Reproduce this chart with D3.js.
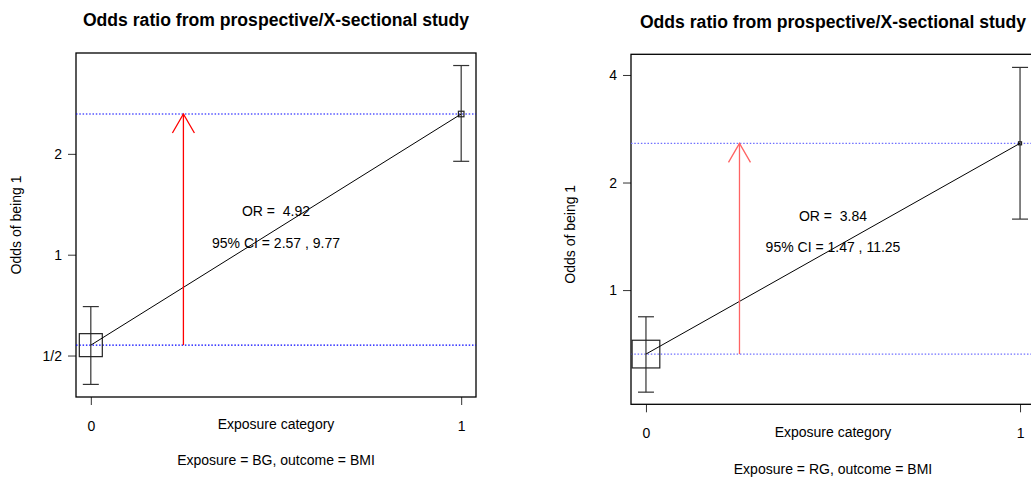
<!DOCTYPE html>
<html>
<head>
<meta charset="utf-8">
<script src="https://cdn.jsdelivr.net/npm/d3@7"></script>
<style>
  body { margin: 0; background: #fff; }
  text { font-family: "Liberation Sans", Arial, sans-serif; fill: #000; white-space: pre; }
</style>
</head>
<body>
<div id="root"></div>
<script>
// exposure categories (x axis)
const categories = [0, 1];

// panel 1: exposure = BG
const oddsBG = [0.537, 2.63];
const ciLowBG = [0.41, 1.90];
const ciHighBG = [0.70, 3.67];
const weightBG = [0.83, 0.2];
const yTicksBG = [0.5, 1, 2];
const yTickLabelsBG = ["1/2", "1", "2"];
const statsBG = ["OR =  4.92", "95% CI = 2.57 , 9.77"];

// panel 2: exposure = RG
const oddsRG = [0.662, 2.575];
const ciLowRG = [0.518, 1.58];
const ciHighRG = [0.842, 4.2];
const weightRG = [1, 0.11];
const yTicksRG = [1, 2, 4];
const yTickLabelsRG = ["1", "2", "4"];
const statsRG = ["OR =  3.84", "95% CI = 1.47 , 11.25"];

const W = 1031, H = 480;

const svg = d3.select("#root")
  .append("svg")
  .attr("width", W)
  .attr("height", H);

function drawPanel(p) {
  const x = d3.scaleLinear()
    .domain([-0.04, 1.04])
    .range([p.left, p.right]);
  const y = d3.scaleLog()
    .base(2)
    .domain(p.yDomain)
    .range([p.bottom, p.top]);
  const size = d3.scaleLinear().domain([0, 1]).range([0, 27.7]);
  const cx = (p.left + p.right) / 2;
  const g = svg.append("g");

  // title
  g.append("text")
    .attr("x", cx)
    .attr("y", p.titleY)
    .attr("text-anchor", "middle")
    .style("font-size", "17.6px")
    .style("font-weight", "bold")
    .text("Odds ratio from prospective/X-sectional study");

  // axes
  const yAxis = d3.axisLeft(y)
    .tickValues(p.yTicks)
    .tickFormat((d, i) => p.yTickLabels[i])
    .tickSize(8)
    .tickPadding(6);
  const ya = g.append("g")
    .attr("transform", `translate(${p.left},0)`)
    .call(yAxis);
  ya.select(".domain").remove();
  ya.selectAll("text").style("font-size", "14px").attr("font-family", null);
  ya.selectAll("line").attr("stroke", "#333");

  const xAxis = d3.axisBottom(x)
    .tickValues(categories)
    .tickFormat(d3.format("d"))
    .tickSize(8)
    .tickPadding(p.xTickPad);
  const xa = g.append("g")
    .attr("transform", `translate(0,${p.bottom})`)
    .call(xAxis);
  xa.select(".domain").remove();
  xa.selectAll("text").style("font-size", "14px").attr("font-family", null);
  xa.selectAll("line").attr("stroke", "#333");

  // plot box
  g.append("rect")
    .attr("x", p.left)
    .attr("y", p.top)
    .attr("width", p.right - p.left)
    .attr("height", p.bottom - p.top)
    .attr("fill", "none")
    .attr("stroke", "#000")
    .attr("stroke-width", 1.3);

  // axis titles
  g.append("text")
    .attr("x", cx)
    .attr("y", p.bottom + p.xLabelDy)
    .attr("text-anchor", "middle")
    .style("font-size", "14px")
    .text("Exposure category");
  g.append("text")
    .attr("x", cx)
    .attr("y", p.bottom + p.subDy)
    .attr("text-anchor", "middle")
    .style("font-size", "14px")
    .text(p.sub);
  g.append("text")
    .attr("transform", `translate(${p.yLabelX},${(p.top + p.bottom) / 2 + p.yLabelDy}) rotate(-90)`)
    .attr("text-anchor", "middle")
    .style("font-size", "14px")
    .text("Odds of being 1");

  // dotted reference lines at each group's odds
  g.selectAll(".ref")
    .data(p.odds)
    .enter()
    .append("line")
    .attr("class", "ref")
    .attr("x1", p.left)
    .attr("x2", p.right)
    .attr("y1", d => y(d))
    .attr("y2", d => y(d))
    .attr("stroke", p.refColor)
    .attr("stroke-width", 1.2)
    .attr("stroke-dasharray", "1.5,1.8");

  // error bars
  const bars = g.selectAll(".ci")
    .data(categories)
    .enter()
    .append("g")
    .attr("class", "ci")
    .attr("stroke", "#333")
    .attr("stroke-width", 1.2);
  bars.append("line")
    .attr("x1", d => x(d)).attr("x2", d => x(d))
    .attr("y1", (d, i) => y(p.ciLow[i]))
    .attr("y2", (d, i) => y(p.ciHigh[i]));
  bars.append("line")
    .attr("x1", d => x(d) - 8).attr("x2", d => x(d) + 8)
    .attr("y1", (d, i) => y(p.ciLow[i]))
    .attr("y2", (d, i) => y(p.ciLow[i]));
  bars.append("line")
    .attr("x1", d => x(d) - 8).attr("x2", d => x(d) + 8)
    .attr("y1", (d, i) => y(p.ciHigh[i]))
    .attr("y2", (d, i) => y(p.ciHigh[i]));

  // squares sized by group weight
  g.selectAll(".sq")
    .data(categories)
    .enter()
    .append("rect")
    .attr("class", "sq")
    .attr("x", (d, i) => x(d) - size(p.weight[i]) / 2)
    .attr("y", (d, i) => y(p.odds[i]) - size(p.weight[i]) / 2)
    .attr("width", (d, i) => size(p.weight[i]))
    .attr("height", (d, i) => size(p.weight[i]))
    .attr("fill", "none")
    .attr("stroke", "#222")
    .attr("stroke-width", 1.2);

  // line joining odds
  g.append("path")
    .datum(categories)
    .attr("d", d3.line().x(d => x(d)).y((d, i) => y(p.odds[i])))
    .attr("fill", "none")
    .attr("stroke", "#000")
    .attr("stroke-width", 1);

  // red arrow showing the odds ratio
  const ax = x(0.25);
  const y0 = y(p.odds[0]), y1 = y(p.odds[1]);
  g.append("line")
    .attr("x1", ax).attr("x2", ax)
    .attr("y1", y0).attr("y2", y1)
    .attr("stroke", p.arrowColor)
    .attr("stroke-width", 1.3);
  g.append("path")
    .attr("d", `M${ax - 11},${y1 + 19}L${ax},${y1}L${ax + 11},${y1 + 19}`)
    .attr("fill", "none")
    .attr("stroke", p.arrowColor)
    .attr("stroke-width", 1.3);

  // OR and CI text
  g.selectAll(".stat")
    .data(p.stats)
    .enter()
    .append("text")
    .attr("class", "stat")
    .attr("x", cx)
    .attr("y", (d, i) => p.top + (p.bottom - p.top) * [0.475, 0.566][i])
    .attr("text-anchor", "middle")
    .style("font-size", "14px")
    .text(d => d);
}

drawPanel({
  left: 76, right: 476, top: 53, bottom: 397,
  yDomain: [0.376, 4.0],
  yTicks: yTicksBG, yTickLabels: yTickLabelsBG,
  odds: oddsBG, ciLow: ciLowBG, ciHigh: ciHighBG, weight: weightBG,
  stats: statsBG,
  sub: "Exposure = BG, outcome = BMI",
  titleY: 26, xTickPad: 16, xLabelDy: 32, subDy: 68,
  yLabelX: 21, yLabelDy: 0,
  refColor: "blue", arrowColor: "red"
});

drawPanel({
  left: 631, right: 1035, top: 54.3, bottom: 404.3,
  yDomain: [0.479, 4.57],
  yTicks: yTicksRG, yTickLabels: yTickLabelsRG,
  odds: oddsRG, ciLow: ciLowRG, ciHigh: ciHighRG, weight: weightRG,
  stats: statsRG,
  sub: "Exposure = RG, outcome = BMI",
  titleY: 27.5, xTickPad: 16, xLabelDy: 33, subDy: 70,
  yLabelX: 575, yLabelDy: 5,
  refColor: "#6f6fff", arrowColor: "#ff6464"
});
</script>
</body>
</html>
